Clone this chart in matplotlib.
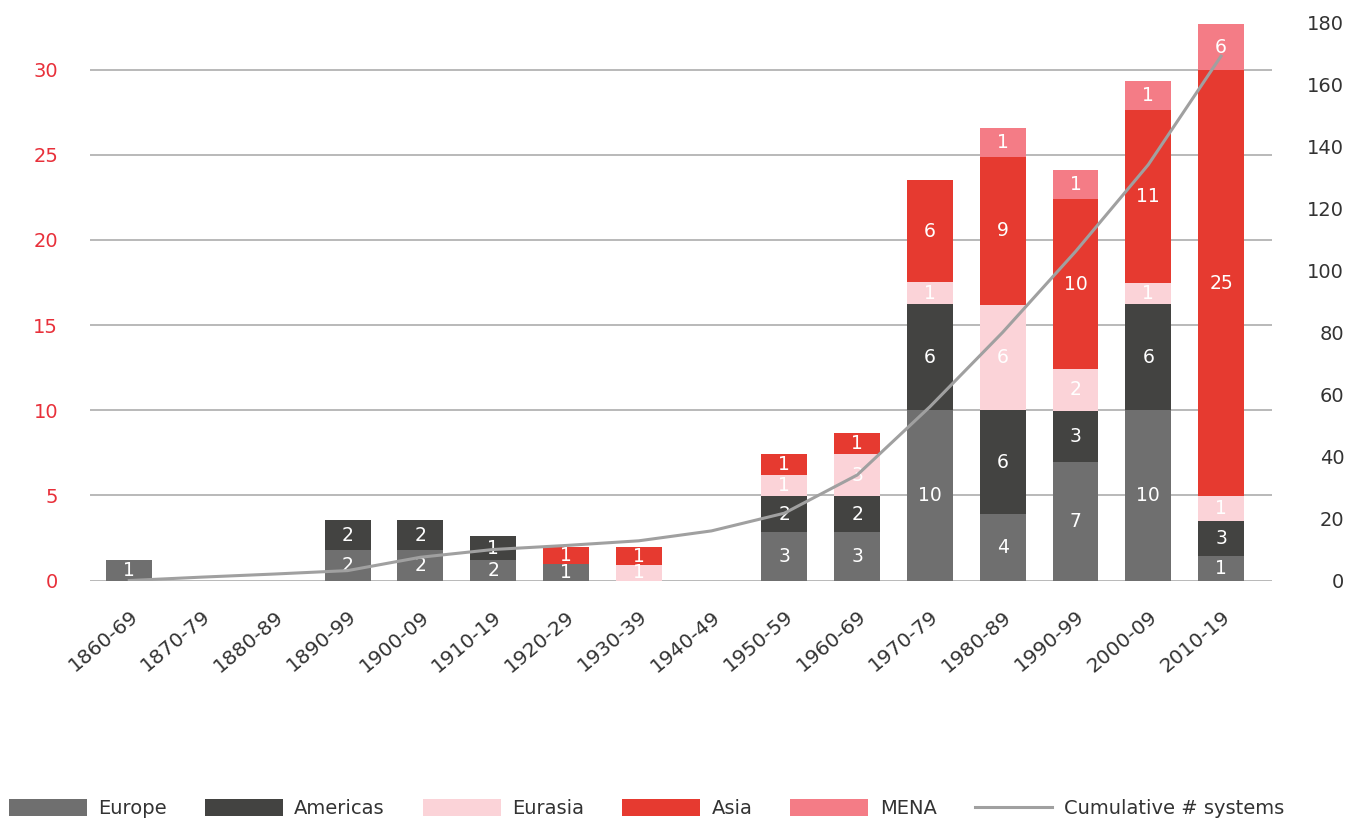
import matplotlib
matplotlib.use("Agg")
import matplotlib.pyplot as plt
import numpy as np
from matplotlib.patches import Patch
from matplotlib.lines import Line2D

categories = ["1860-69", "1870-79", "1880-89", "1890-99", "1900-09", "1910-19",
              "1920-29", "1930-39", "1940-49", "1950-59", "1960-69", "1970-79",
              "1980-89", "1990-99", "2000-09", "2010-19"]

# bar segment heights as drawn (left axis)
europe   = [1.2, 0, 0, 1.78, 1.78, 1.2, 0.96, 0, 0, 2.84, 2.84, 10.0, 3.9, 6.95, 10.0, 1.43]
americas = [0, 0, 0, 1.76, 1.76, 1.41, 0, 0, 0, 2.11, 2.11, 6.24, 6.1, 3.02, 6.24, 2.06]
eurasia  = [0, 0, 0, 0, 0, 0, 0, 0.9, 0, 1.23, 2.47, 1.29, 6.18, 2.45, 1.23, 1.46]
asia     = [0, 0, 0, 0, 0, 0, 1.0, 1.07, 0, 1.24, 1.23, 5.99, 8.7, 9.98, 10.16, 25.03]
mena     = [0, 0, 0, 0, 0, 0, 0, 0, 0, 0, 0, 0, 1.69, 1.7, 1.7, 2.7]

# value labels shown on the segments
europe_lbl   = ["1", "", "", "2", "2", "2", "1", "", "", "3", "3", "10", "4", "7", "10", "1"]
americas_lbl = ["", "", "", "2", "2", "1", "", "", "", "2", "2", "6", "6", "3", "6", "3"]
eurasia_lbl  = ["", "", "", "", "", "", "", "1", "", "1", "3", "1", "6", "2", "1", "1"]
asia_lbl     = ["", "", "", "", "", "", "1", "1", "", "1", "1", "6", "9", "10", "11", "25"]
mena_lbl     = ["", "", "", "", "", "", "", "", "", "", "", "", "1", "1", "1", "6"]

# cumulative number of systems (right axis)
cumulative = [0, 1.1, 2.1, 3.2, 7.5, 10.0, 11.3, 12.8, 16.0, 21.7, 34.0, 56.0, 80.0, 106.0, 134.0, 169.0]

series_names = ["Europe", "Americas", "Eurasia", "Asia", "MENA"]
series_vals = [europe, americas, eurasia, asia, mena]
series_lbls = [europe_lbl, americas_lbl, eurasia_lbl, asia_lbl, mena_lbl]
colors = ["#6f6f6f", "#434341", "#fbd3d8", "#e63a30", "#f47c86"]
line_color = "#a0a0a0"

plt.rcParams['font.family'] = ['DejaVu Sans']

fig = plt.figure(figsize=(13.67, 8.21), dpi=100)
ax = fig.add_axes([0.0658, 0.2929, 0.9305 - 0.0658, 0.9732 - 0.2929])
ax2 = ax.twinx()

x = np.arange(len(categories))
width = 0.63
bottom = np.zeros(len(categories))
for name, vals, lbls, col in zip(series_names, series_vals, series_lbls, colors):
    vals = np.array(vals, dtype=float)
    ax.bar(x, vals, width, bottom=bottom, color=col, label=name, zorder=3)
    for xi, b, v, t in zip(x, bottom, vals, lbls):
        if t and v > 0:
            ax.text(xi, b + v / 2, t, ha='center', va='center', color='white',
                    fontsize=13.5, zorder=5)
    bottom += vals

ax2.plot(x, cumulative, color=line_color, lw=2.2, zorder=4)

ax.set_xlim(-0.54, 15.70)
ax.set_ylim(0, 32.8)
ax2.set_ylim(0, 180)
ax.set_yticks(np.arange(0, 31, 5))
ax2.set_yticks(np.arange(0, 181, 20))

ax.grid(axis='y', color='#a6a6a6', lw=1.1, zorder=0)
ax.set_axisbelow(True)
for a in (ax, ax2):
    for s in a.spines.values():
        s.set_visible(False)

ax.set_xticks(x)
ax.set_xticklabels(categories, rotation=40, ha='right', va='top',
                   rotation_mode='anchor', fontsize=14.5, color='#333333')
ax.tick_params(axis='x', length=0, pad=19)
ax.tick_params(axis='y', length=0, pad=23, labelsize=14, labelcolor='#e8303a')
ax2.tick_params(axis='y', length=0, pad=52, labelsize=14, labelcolor='#333333')
for lab in ax2.get_yticklabels():
    lab.set_horizontalalignment('right')

ax2.set_zorder(ax.get_zorder() + 1)
ax2.patch.set_visible(False)

handles = [Patch(facecolor=c, edgecolor='none') for c in colors]
handles.append(Line2D([0], [0], color=line_color, lw=2.2))
labels = series_names + ["Cumulative # systems"]
fig.legend(handles, labels, loc='center', bbox_to_anchor=(0.473, 0.015), ncol=6,
           frameon=False, fontsize=14, handlelength=4.0, handleheight=0.95,
           handletextpad=0.6, columnspacing=1.95, labelcolor='#333333')

fig.savefig("out.png", dpi=100)
